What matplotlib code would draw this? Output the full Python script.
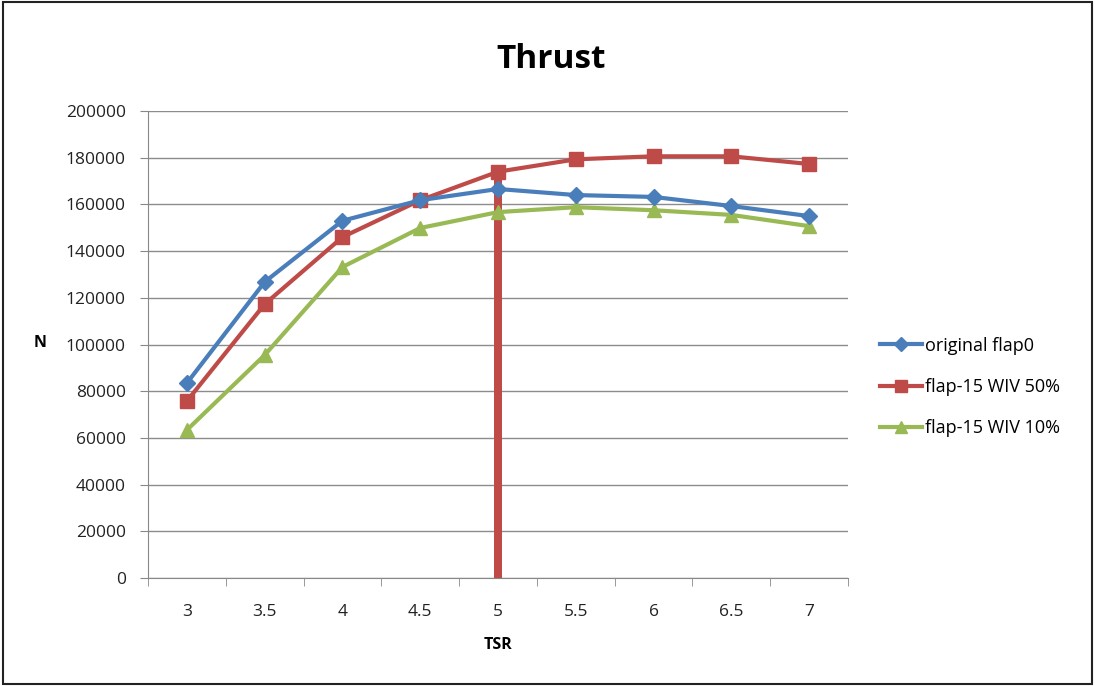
import matplotlib
matplotlib.use("Agg")
import matplotlib.pyplot as plt
from matplotlib.lines import Line2D
from matplotlib.patches import Rectangle

categories = ["3", "3.5", "4", "4.5", "5", "5.5", "6", "6.5", "7"]
original_flap0 = [83500, 126800, 153000, 161800, 166600, 164000, 163200, 159300, 155000]
flap15_wiv50 = [75800, 117300, 146000, 161800, 174000, 179300, 180600, 180600, 177300]
flap15_wiv10 = [63400, 95500, 133200, 149900, 156700, 158800, 157500, 155500, 150700]
bar_category = "5"
yticks = list(range(0, 200001, 20000))

plt.rcParams['font.family'] = ['Open Sans', 'DejaVu Sans']

fig = plt.figure(figsize=(10.95, 6.86), dpi=100)
fig.patches.append(Rectangle((0.003, 0.003), 0.994, 0.994, transform=fig.transFigure,
                             fill=False, edgecolor='#222222', linewidth=1.5))
ax = fig.add_axes([0.1352, 0.1574, 0.7744 - 0.1352, 0.8382 - 0.1574])

x = list(range(len(categories)))
blue = '#4A7EBB'
red = '#BE4B48'
green = '#98B954'

# vertical red bar at TSR 5
bi = categories.index(bar_category)
ax.bar([bi], [flap15_wiv50[bi]], width=0.1, color=red, zorder=2)

ax.plot(x, original_flap0, color=blue, lw=3, marker='D', ms=8, label='original flap0', zorder=4)
ax.plot(x, flap15_wiv50, color=red, lw=3, marker='s', ms=10.5, label='flap-15 WIV 50%', zorder=3)
ax.plot(x, flap15_wiv10, color=green, lw=3, marker='^', ms=10.5, label='flap-15 WIV 10%', zorder=3)

ax.set_xlim(-0.5, len(categories) - 0.5)
ax.set_ylim(0, 200000)
ax.set_yticks(yticks)
ax.set_yticklabels([str(v) for v in yticks])
ax.set_xticks(x)
ax.set_xticklabels(categories)
ax.set_xticks([i - 0.5 for i in range(len(categories) + 1)], minor=True)
ax.tick_params(axis='x', which='major', length=0, pad=19, labelsize=12.5, colors='#222222')
ax.tick_params(axis='x', which='minor', length=6, color='#888888', direction='out')
ax.tick_params(axis='y', which='major', length=6, labelsize=12.5, colors='#222222', pad=10)
ax.tick_params(axis='y', which='major', color='#888888')
ax.grid(axis='y', color='#8c8c8c', lw=1)
ax.set_axisbelow(True)
for s in ['top', 'right']:
    ax.spines[s].set_visible(False)
for s in ['left', 'bottom']:
    ax.spines[s].set_color('#888888')

fig.text(0.5032, 1 - 68 / 686, 'Thrust', ha='center', va='baseline', fontsize=24, fontweight='bold')
fig.text(498 / 1095, 1 - 645 / 686, 'TSR', ha='center', va='center', fontsize=11.5, fontweight='bold')
fig.text(0.0365, 1 - 343 / 686, 'N', ha='center', va='center', fontsize=11.5, fontweight='bold')

handles = [Line2D([], [], color=blue, lw=3, marker='D', ms=7),
           Line2D([], [], color=red, lw=3, marker='s', ms=9),
           Line2D([], [], color=green, lw=3, marker='^', ms=9)]
fig.legend(handles, ['original flap0', 'flap-15 WIV 50%', 'flap-15 WIV 10%'],
           loc='center left', bbox_to_anchor=(0.7886, 1 - 387 / 686), frameon=False,
           fontsize=13, handlelength=2.33, handletextpad=0.15, labelspacing=1.3)

fig.savefig('out.png', dpi=100)
